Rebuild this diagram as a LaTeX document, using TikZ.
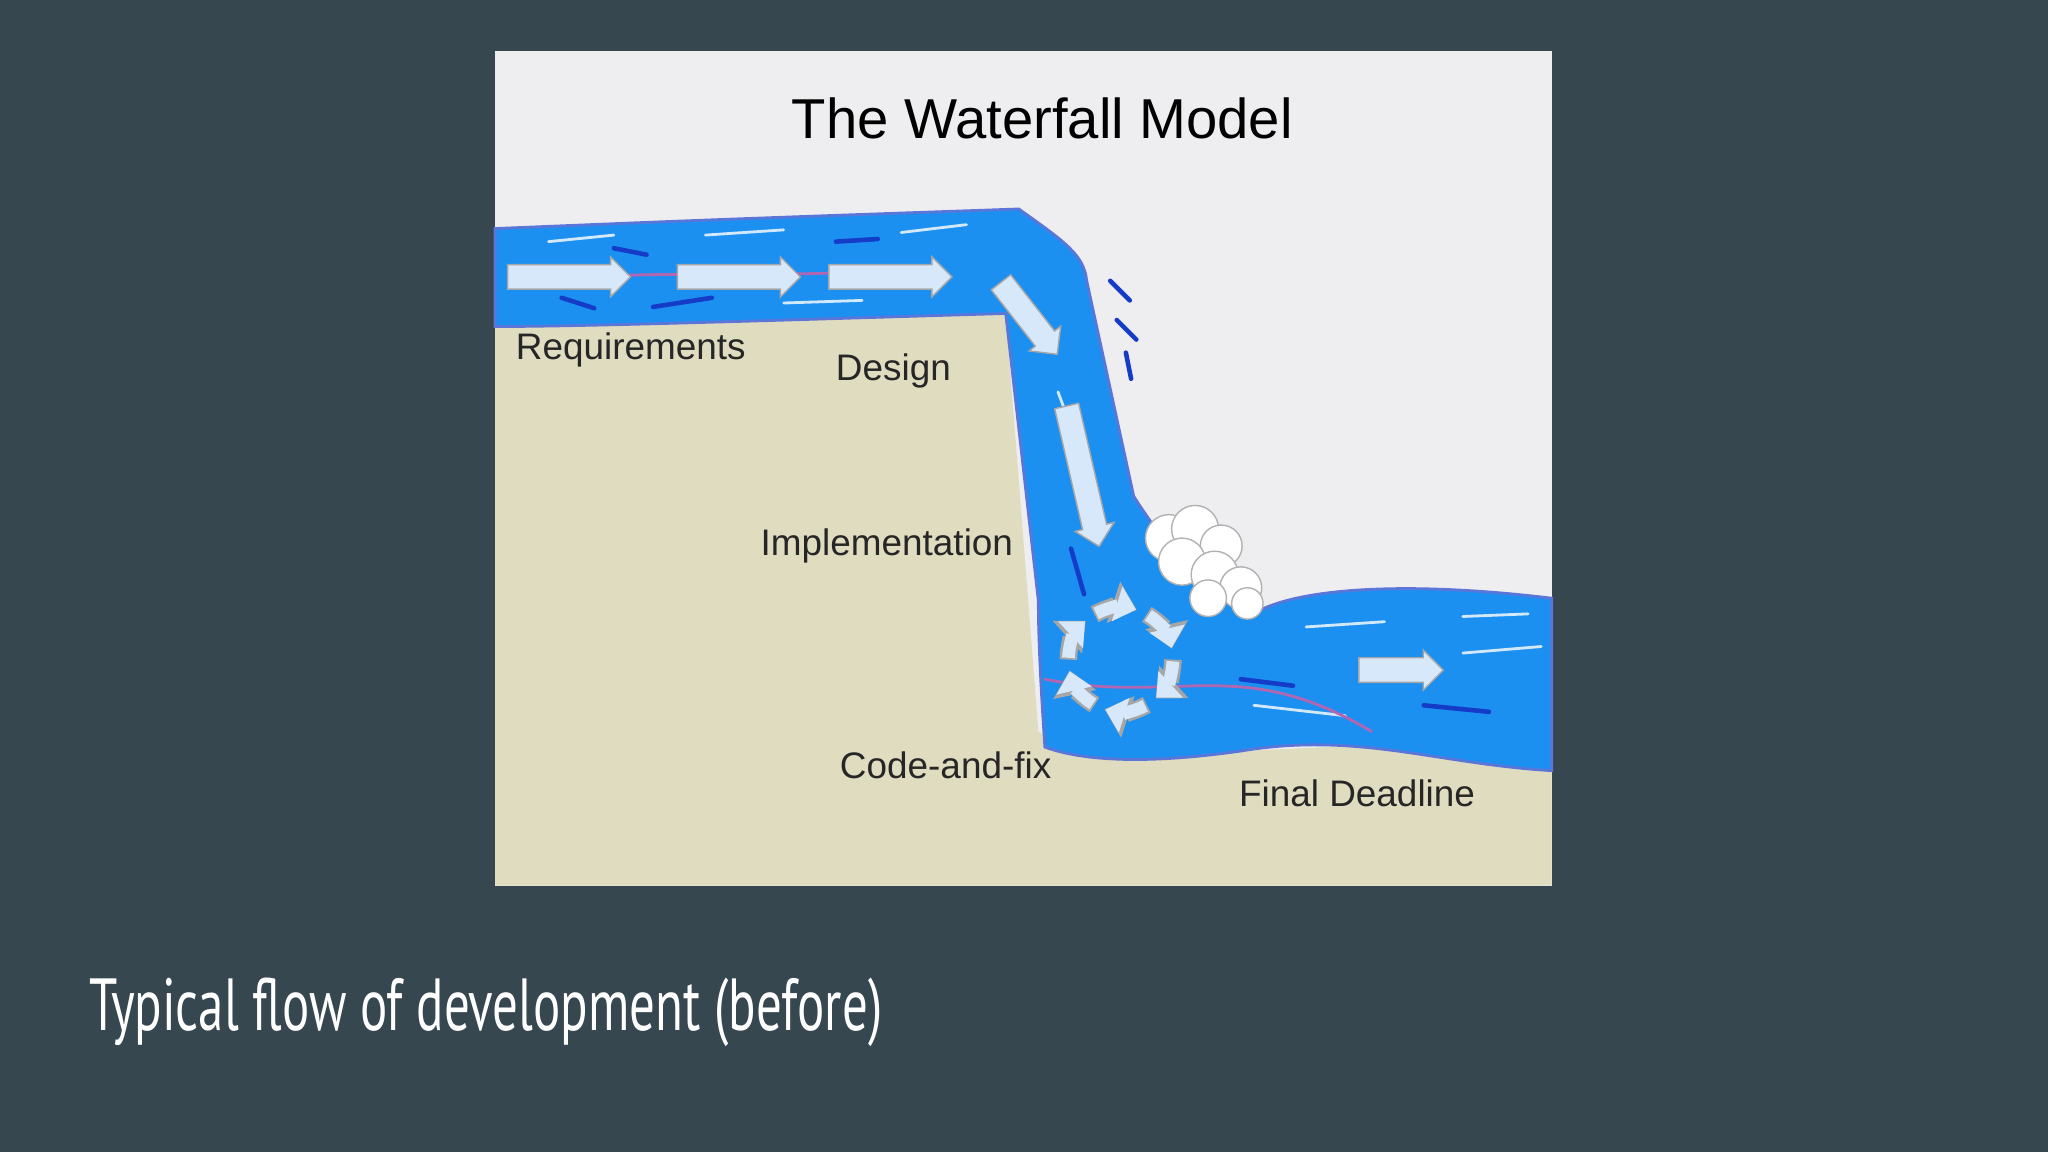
\documentclass[tikz,border=0pt]{standalone}
\usepackage{fontspec}
\setmainfont{Liberation Sans}
\newfontfamily\capfont{PT Sans}
\usetikzlibrary{arrows.meta,shapes.arrows}
\definecolor{slide}{RGB}{55,71,79}
\definecolor{sky}{RGB}{238,238,240}
\definecolor{earth}{RGB}{224,220,192}
\definecolor{water}{RGB}{28,144,240}
\definecolor{waterdk}{RGB}{20,60,200}
\definecolor{arrowfill}{RGB}{214,232,250}
\tikzset{
  lbl/.style={font=\fontsize{10.5pt}{12pt}\selectfont, text=black!85},
  flowarrow/.style={single arrow, draw=gray!70, fill=arrowfill, minimum height=#1, minimum width=11pt, single arrow head extend=2.2pt, inner sep=0pt},
  streak/.style={waterdk, line width=1.3pt, line cap=round},
  lstreak/.style={white!80!water, line width=0.8pt, line cap=round},
}
\newcommand{\abody}{\rule{0pt}{6.6pt}}
\begin{document}
\begin{tikzpicture}[x=0.013061cm,y=-0.013061cm]
\fill[slide] (0,0) rectangle (1568,882);
\useasboundingbox (0,0) rectangle (1568,882);
\begin{scope}
\fill[sky] (379,39) rectangle (1188,678);
\fill[earth] (379,245) -- (770,240) -- (795,560) -- (830,580) -- (950,575) -- (1060,570) -- (1188,590) -- (1188,678) -- (379,678) -- cycle;
\fill[water, draw=waterdk!70, line width=0.8pt]
  (379,175) .. controls (550,168) .. (780,160)
  .. controls (815,185) and (830,195) .. (832,215)
  -- (868,380) .. controls (900,430) and (930,460) .. (965,467)
  .. controls (1000,450) and (1080,445) .. (1188,458)
  -- (1188,590) .. controls (1100,585) and (1040,560) .. (950,575)
  .. controls (880,585) and (830,583) .. (800,572)
  .. controls (795,500) and (795,470) .. (795,460)
  -- (770,240) .. controls (600,245) and (450,250) .. (379,250) -- cycle;
\clip (379,39) rectangle (1188,678);
\draw[streak] (470,190) -- (495,195);
\draw[streak] (640,185) -- (672,183);
\draw[streak] (500,235) -- (545,228);
\draw[streak] (430,228) -- (455,236);
\draw[streak] (850,215) -- (865,230);
\draw[streak] (855,245) -- (870,260);
\draw[streak] (862,270) -- (866,290);
\draw[streak] (820,420) -- (830,455);
\draw[streak] (1090,540) -- (1140,545);
\draw[streak] (950,520) -- (990,525);
\draw[lstreak] (420,185) -- (470,180);
\draw[lstreak] (540,180) -- (600,176);
\draw[lstreak] (690,178) -- (740,172);
\draw[lstreak] (600,232) -- (660,230);
\draw[lstreak] (810,300) -- (840,380);
\draw[lstreak] (1000,480) -- (1060,476);
\draw[lstreak] (1120,472) -- (1170,470);
\draw[lstreak] (960,540) -- (1030,548);
\draw[lstreak] (1120,500) -- (1180,495);
\draw[lstreak, violet!60] (800,520) .. controls (900,540) and (950,500) .. (1050,560);
\draw[lstreak, violet!60] (420,215) .. controls (500,205) and (600,215) .. (700,205);
\foreach \cx/\cy/\r in {895/412/18, 915/405/18, 935/418/16, 905/430/18, 930/440/18, 950/450/16, 955/462/12, 925/458/14}
  \fill[white, draw=gray!60] (\cx,\cy) circle (\r);
\node[flowarrow=35pt] (a1) at (431,212) {\abody};
\node[flowarrow=35pt] (a2) at (561,212) {\abody};
\node[flowarrow=35pt] (a3) at (677,212) {\abody};
\node[flowarrow=26pt, rotate=-52] (a4) at (785,240) {\abody};
\node[flowarrow=41pt, rotate=-77] (a5) at (828,360) {\abody};
\node[flowarrow=24pt] (a6) at (1068,513) {\abody};
\foreach \a in {0,60,...,300}
  \draw[-{Triangle[length=7pt,width=12pt]}, line width=5pt, draw=gray!70] ([shift={(\a:40)}]858,505) arc[start angle=\a, end angle=\a+48, radius=40];
\foreach \a in {0,60,...,300}
  \draw[-{Triangle[length=5.6pt,width=10pt]}, line width=3.6pt, draw=arrowfill] ([shift={(\a+2:40)}]858,505) arc[start angle=\a+2, end angle=\a+47, radius=40];
\node[font=\fontsize{16pt}{18pt}\selectfont] (title) at (798,91) {The Waterfall Model};
\node[lbl] (req) at (483,268) {Requirements};
\node[lbl] (des) at (684,284) {Design};
\node[lbl] (imp) at (679,418) {Implementation};
\node[lbl] (caf) at (724,586) {Code-and-fix};
\node[lbl] (fd) at (1039,607) {Final Deadline};
\end{scope}
\node[anchor=west, text=white, font=\capfont\fontsize{21pt}{24pt}\selectfont, xscale=0.69, transform shape, inner sep=0pt] (cap) at (68,775) {Typical flow of development (before)};
\end{tikzpicture}
\end{document}
